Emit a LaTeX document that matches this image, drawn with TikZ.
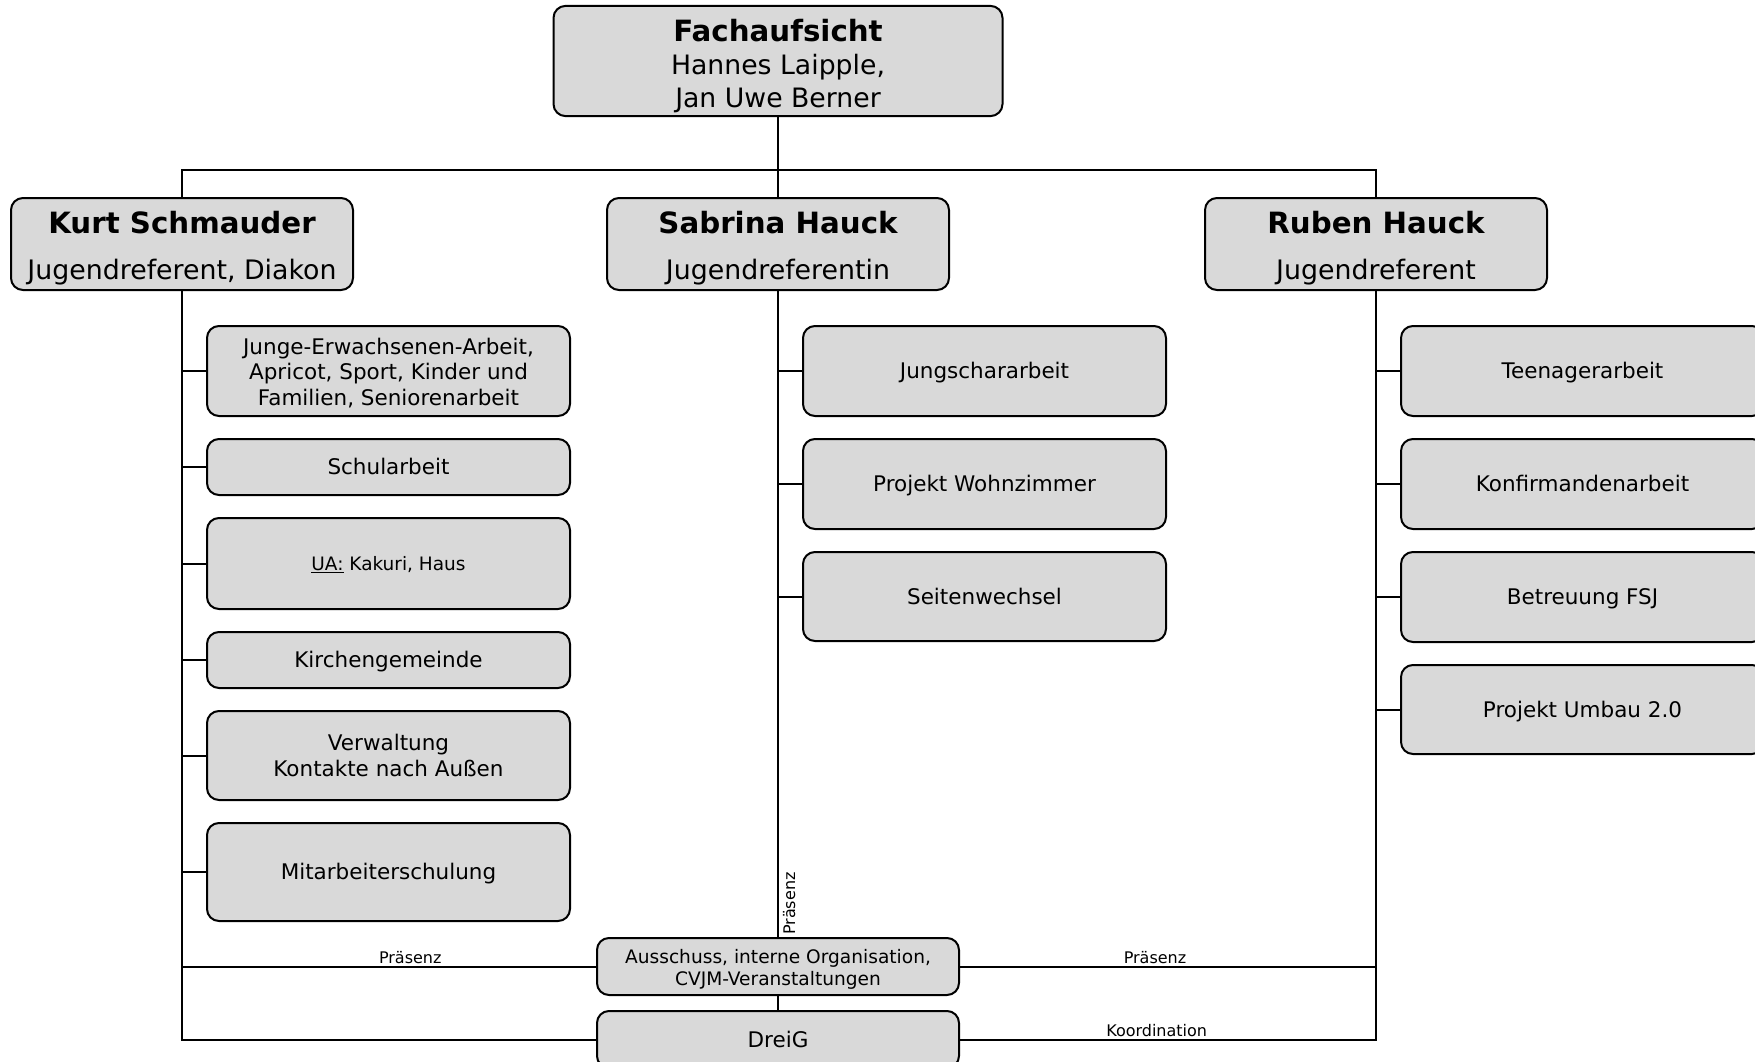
\documentclass[tikz,border=0pt]{standalone}
\usepackage{fontspec}
\setmainfont{DejaVu Sans}
\usetikzlibrary{positioning}
\definecolor{boxgray}{RGB}{217,217,217}
\newcommand{\boxstrut}{\rule[-0.25em]{0pt}{1.23em}}
\newcommand{\firststrut}[1]{\rule{0pt}{#1pt}}

\begin{document}
\begin{tikzpicture}[
        x=1pt, y=-1pt,
        node distance=23pt,
        orgbox/.style={rectangle, draw, line width=2pt, fill=boxgray, rounded corners=12pt, align=center, inner sep=2pt, outer sep=0pt,
            execute at begin node=\boxstrut, execute at end node=\boxstrut},
        lead/.style={orgbox, minimum width=449pt, minimum height=108pt, font=\fontsize{26.7}{33}\selectfont},
        person/.style={orgbox, minimum width=342pt, minimum height=92pt, font=\fontsize{26.8}{46}\selectfont},
        task/.style={orgbox, minimum width=363pt, font=\fontsize{21.5}{25.7}\selectfont},
        meeting/.style={orgbox, minimum width=362pt, minimum height=57pt},
        line/.style={line width=2pt},
        linklabel/.style={font=\fontsize{16}{18}\selectfont, inner sep=2pt}
    ]
        \useasboundingbox (0,0) rectangle (1755,1062);

        % Leitung
        \node[lead] (fach) at (778,61) {{\fontsize{29.3}{33}\bfseries\firststrut{33.5}Fachaufsicht}\\Hannes Laipple,\\Jan Uwe Berner};
        \coordinate (bus) at (778,170);
        \node[person] (kurt) at (182,244) {{\fontsize{29.3}{46}\bfseries\firststrut{31.3}Kurt Schmauder}\\Jugendreferent, Diakon};
        \node[person] (sabrina) at (778,244) {{\fontsize{29.3}{46}\bfseries\firststrut{31.3}Sabrina Hauck}\\Jugendreferentin};
        \node[person] (ruben) at (1376,244) {{\fontsize{29.3}{46}\bfseries\firststrut{31.3}Ruben Hauck}\\Jugendreferent};

        % Bereiche Kurt
        \node[task, minimum height=90pt] (k1) at (388.5,371) {\firststrut{23.1}Junge-Erwachsenen-Arbeit,\\Apricot, Sport, Kinder und\\Familien, Seniorenarbeit};
        \node[task, minimum height=56pt] (k2) [below=of k1] {Schularbeit};
        \node[task, minimum height=91pt, font=\fontsize{18.5}{22}\selectfont] (k3) [below=of k2] {\underline{UA:} Kakuri, Haus};
        \node[task, minimum height=56pt] (k4) [below=of k3] {Kirchengemeinde};
        \node[task, minimum height=89pt] (k5) [below=of k4] {\firststrut{20.7}Verwaltung\\Kontakte nach Außen};
        \node[task, minimum height=98pt] (k6) [below=of k5] {Mitarbeiterschulung};

        % Bereiche Sabrina
        \node[task, minimum height=90pt] (s1) at (984.5,371) {Jungschararbeit};
        \node[task, minimum height=90pt] (s2) [below=of s1] {Projekt Wohnzimmer};
        \node[task, minimum height=89pt] (s3) [below=of s2] {Seitenwechsel};

        % Bereiche Ruben
        \node[task, minimum height=90pt] (r1) at (1582.5,371) {Teenagerarbeit};
        \node[task, minimum height=90pt] (r2) [below=of r1] {Konfirmandenarbeit};
        \node[task, minimum height=90pt] (r3) [below=of r2] {Betreuung FSJ};
        \node[task, minimum height=89pt] (r4) [below=of r3] {Projekt Umbau 2.0};

        % Gremien
        \node[meeting, font=\fontsize{18.6}{22.4}\selectfont] (ausschuss) at (778,966.5) {\firststrut{20.9}Ausschuss, interne Organisation,\\CVJM-Veranstaltungen};
        \node[meeting, font=\fontsize{21.5}{25.7}\selectfont] (dreig) at (778,1039.5) {DreiG};

        % Verbindungen
        \draw[line] (fach) -- (sabrina);
        \draw[line] (kurt.north) |- (bus) -| (ruben.north);

        \draw[line] (kurt.south) |- (dreig.west);
        \draw[line] (ruben.south) |- (dreig.east) node[linklabel, pos=0.763, above] {Koordination};
        \draw[line] (kurt.south |- ausschuss.west) -- node[linklabel, pos=0.55, above] {Präsenz} (ausschuss.west);
        \draw[line] (ausschuss.east) -- node[linklabel, pos=0.47, above] {Präsenz} (ruben.south |- ausschuss.east);
        \draw[line] (sabrina) -- node[linklabel, pos=0.947, anchor=north, rotate=90, inner sep=4pt] {Präsenz} (ausschuss);
        \draw[line] (ausschuss) -- (dreig);

        % Kurt
        \draw[line] (kurt.south |- k1.west) -- (k1.west);
        \draw[line] (kurt.south |- k2.west) -- (k2.west);
        \draw[line] (kurt.south |- k3.west) -- (k3.west);
        \draw[line] (kurt.south |- k4.west) -- (k4.west);
        \draw[line] (kurt.south |- k5.west) -- (k5.west);
        \draw[line] (kurt.south |- k6.west) -- (k6.west);

        % Sabrina
        \draw[line] (sabrina.south |- s1.west) -- (s1.west);
        \draw[line] (sabrina.south |- s2.west) -- (s2.west);
        \draw[line] (sabrina.south |- s3.west) -- (s3.west);

        % Ruben
        \draw[line] (ruben.south |- r1.west) -- (r1.west);
        \draw[line] (ruben.south |- r2.west) -- (r2.west);
        \draw[line] (ruben.south |- r3.west) -- (r3.west);
        \draw[line] (ruben.south |- r4.west) -- (r4.west);
    \end{tikzpicture}
\end{document}
